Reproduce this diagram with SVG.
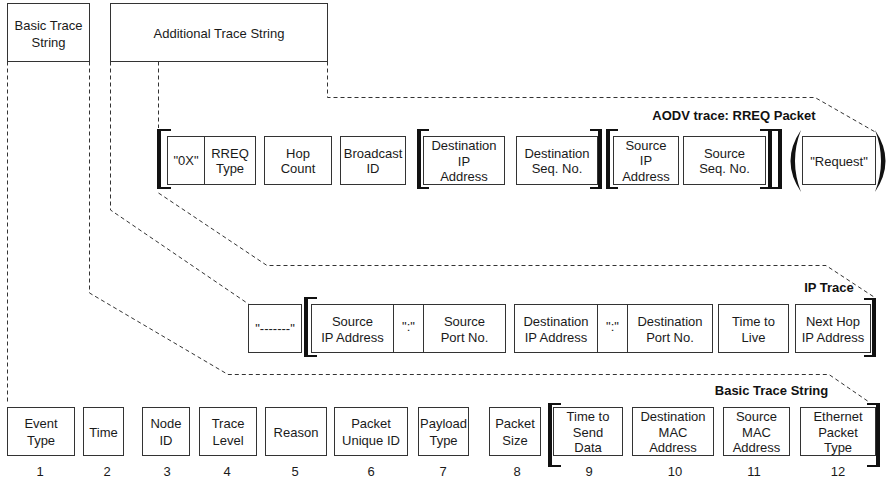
<svg xmlns="http://www.w3.org/2000/svg" width="888" height="480" viewBox="0 0 888 480">
<style>
  .box { fill: #fff; stroke: #333; stroke-width: 1; }
  .div { stroke: #333; stroke-width: 1; }
  .t { font-family: "Liberation Sans", Arial, Helvetica, sans-serif; font-size: 13px; fill: #1a1a1a; text-anchor: middle; }
  .h { font-family: "Liberation Sans", Arial, Helvetica, sans-serif; font-size: 13px; font-weight: bold; fill: #111; text-anchor: middle; }
  .dash { fill: none; stroke: #333; stroke-width: 1; stroke-dasharray: 4 3; }
  .brk { fill: #111; }
</style>
<rect width="888" height="480" fill="#fff"/>

<!-- dashed leader lines -->
<g id="connectors">
  <path class="dash" d="M7.5 61.5 V403"/>
  <path class="dash" d="M89.5 61.5 V293 L228 374.5 H829 L869 402"/>
  <path class="dash" d="M110.5 61.5 V210 L248.5 304"/>
  <path class="dash" d="M158.5 61.5 V128"/>
  <path class="dash" d="M158.5 193 L267 265.5 H826 L874 297"/>
  <path class="dash" d="M327.5 61.5 V97.5 H815 L877 133"/>
</g>

<!-- top level -->
<g id="basic-trace-string">
  <rect class="box" x="7.5" y="3.5" width="82" height="58"/>
  <text class="t" x="48.5" y="29.5">Basic Trace</text>
  <text class="t" x="48.5" y="46.5">String</text>
</g>
<g id="additional-trace-string">
  <rect class="box" x="110.5" y="3.5" width="217" height="58"/>
  <text class="t" x="219" y="37.5">Additional Trace String</text>
</g>

<!-- AODV RREQ packet row -->
<g id="aodv-title"><text class="h" x="734" y="120">AODV trace: RREQ Packet</text></g>
<g id="aodv-brackets">
  <path class="brk" d="M157 129 H171 V131 H161 V187 H171 V189 H157 Z"/>
  <path class="brk" d="M417 129 H429 V131 H421 V187 H429 V189 H417 Z"/>
  <path class="brk" d="M602 129 H590 V131 H598 V187 H590 V189 H602 Z"/>
  <path class="brk" d="M606 129 H618 V131 H610 V187 H618 V189 H606 Z"/>
  <path class="brk" d="M772 129 H760 V131 H768 V187 H760 V189 H772 Z"/>
  <path class="brk" d="M782 129 H770 V131 H778 V187 H770 V189 H782 Z"/>
  <path class="brk" d="M801 130 Q780 161 801 192 Q789 161 801 130 Z"/>
  <path class="brk" d="M875 130 Q896 161 875 192 Q887 161 875 130 Z"/>
</g>
<g id="aodv-0x-type">
  <rect class="box" x="167.5" y="136.5" width="88" height="48"/>
  <line class="div" x1="204.5" y1="136.5" x2="204.5" y2="184.5"/>
  <text class="t" x="186" y="165">"0X"</text>
  <text class="t" x="230" y="157.5">RREQ</text>
  <text class="t" x="230" y="173">Type</text>
</g>
<g id="aodv-hop-count">
  <rect class="box" x="264.5" y="136.5" width="67" height="48"/>
  <text class="t" x="298" y="157.5">Hop</text>
  <text class="t" x="298" y="173">Count</text>
</g>
<g id="aodv-broadcast-id">
  <rect class="box" x="340.5" y="136.5" width="65" height="48"/>
  <text class="t" x="373" y="157.5">Broadcast</text>
  <text class="t" x="373" y="173">ID</text>
</g>
<g id="aodv-dest-ip">
  <rect class="box" x="423.5" y="136.5" width="81" height="48"/>
  <text class="t" x="464" y="149.5">Destination</text>
  <text class="t" x="464" y="165.5">IP</text>
  <text class="t" x="464" y="181">Address</text>
</g>
<g id="aodv-dest-seq">
  <rect class="box" x="516.5" y="136.5" width="81" height="48"/>
  <text class="t" x="557" y="157.5">Destination</text>
  <text class="t" x="557" y="173">Seq. No.</text>
</g>
<g id="aodv-src-ip">
  <rect class="box" x="613.5" y="136.5" width="65" height="48"/>
  <text class="t" x="646" y="149.5">Source</text>
  <text class="t" x="646" y="165">IP</text>
  <text class="t" x="646" y="181">Address</text>
</g>
<g id="aodv-src-seq">
  <rect class="box" x="683.5" y="136.5" width="82" height="48"/>
  <text class="t" x="724.5" y="157.5">Source</text>
  <text class="t" x="724.5" y="173">Seq. No.</text>
</g>
<g id="aodv-request">
  <rect class="box" x="802.5" y="136.5" width="73" height="48"/>
  <text class="t" x="839" y="166">"Request"</text>
</g>

<!-- IP trace row -->
<g id="ip-title"><text class="h" x="829" y="292">IP Trace</text></g>
<g id="ip-brackets">
  <path class="brk" d="M304 297 H317 V299 H308 V355 H317 V357 H304 Z"/>
  <path class="brk" d="M876 298 H864 V300 H872 V355 H864 V357 H876 Z"/>
</g>
<g id="ip-separator">
  <rect class="box" x="248.5" y="304.5" width="53" height="48"/>
  <text class="t" x="275" y="333">"-------"</text>
</g>
<g id="ip-source">
  <rect class="box" x="311.5" y="304.5" width="194" height="48"/>
  <line class="div" x1="393.5" y1="304.5" x2="393.5" y2="352.5"/>
  <line class="div" x1="423.5" y1="304.5" x2="423.5" y2="352.5"/>
  <text class="t" x="352.5" y="325.5">Source</text>
  <text class="t" x="352.5" y="341.5">IP Address</text>
  <text class="t" x="408.5" y="331">":"</text>
  <text class="t" x="464.5" y="325.5">Source</text>
  <text class="t" x="464.5" y="341.5">Port No.</text>
</g>
<g id="ip-destination">
  <rect class="box" x="514.5" y="304.5" width="198" height="48"/>
  <line class="div" x1="597.5" y1="304.5" x2="597.5" y2="352.5"/>
  <line class="div" x1="627.5" y1="304.5" x2="627.5" y2="352.5"/>
  <text class="t" x="556" y="325.5">Destination</text>
  <text class="t" x="556" y="341.5">IP Address</text>
  <text class="t" x="612.5" y="331">":"</text>
  <text class="t" x="670" y="325.5">Destination</text>
  <text class="t" x="670" y="341.5">Port No.</text>
</g>
<g id="ip-ttl">
  <rect class="box" x="718.5" y="304.5" width="70" height="48"/>
  <text class="t" x="753.5" y="325.5">Time to</text>
  <text class="t" x="753.5" y="341.5">Live</text>
</g>
<g id="ip-next-hop">
  <rect class="box" x="795.5" y="304.5" width="75" height="48"/>
  <text class="t" x="833" y="325.5">Next Hop</text>
  <text class="t" x="833" y="341.5">IP Address</text>
</g>

<!-- basic trace string fields -->
<g id="basic-title"><text class="h" x="771.5" y="395">Basic Trace String</text></g>
<g id="basic-brackets">
  <path class="brk" d="M548 403 H561 V405 H552 V465 H561 V467 H548 Z"/>
  <path class="brk" d="M880 403 H867 V405 H876 V465 H867 V467 H880 Z"/>
</g>
<g id="f1-event-type">
  <rect class="box" x="7.5" y="407.5" width="67" height="48"/>
  <text class="t" x="41" y="428">Event</text>
  <text class="t" x="41" y="444.5">Type</text>
  <text class="t" x="40" y="476">1</text>
</g>
<g id="f2-time">
  <rect class="box" x="83.5" y="407.5" width="40" height="48"/>
  <text class="t" x="103.5" y="436.5">Time</text>
  <text class="t" x="107" y="476">2</text>
</g>
<g id="f3-node-id">
  <rect class="box" x="142.5" y="407.5" width="47" height="48"/>
  <text class="t" x="166" y="428">Node</text>
  <text class="t" x="166" y="444.5">ID</text>
  <text class="t" x="167" y="476">3</text>
</g>
<g id="f4-trace-level">
  <rect class="box" x="199.5" y="407.5" width="57" height="48"/>
  <text class="t" x="228" y="428">Trace</text>
  <text class="t" x="228" y="444.5">Level</text>
  <text class="t" x="227" y="476">4</text>
</g>
<g id="f5-reason">
  <rect class="box" x="265.5" y="407.5" width="61" height="48"/>
  <text class="t" x="296" y="436.5">Reason</text>
  <text class="t" x="295" y="476">5</text>
</g>
<g id="f6-packet-uid">
  <rect class="box" x="334.5" y="407.5" width="73" height="48"/>
  <text class="t" x="371" y="428">Packet</text>
  <text class="t" x="371" y="444.5">Unique ID</text>
  <text class="t" x="371" y="476">6</text>
</g>
<g id="f7-payload-type">
  <rect class="box" x="418.5" y="407.5" width="50" height="48"/>
  <text class="t" x="443.5" y="428">Payload</text>
  <text class="t" x="443.5" y="444.5">Type</text>
  <text class="t" x="443" y="476">7</text>
</g>
<g id="f8-packet-size">
  <rect class="box" x="489.5" y="407.5" width="51" height="48"/>
  <text class="t" x="515" y="428">Packet</text>
  <text class="t" x="515" y="444.5">Size</text>
  <text class="t" x="517" y="476">8</text>
</g>
<g id="f9-time-to-send">
  <rect class="box" x="553.5" y="407.5" width="69" height="48"/>
  <text class="t" x="588" y="420.5">Time to</text>
  <text class="t" x="588" y="436.5">Send</text>
  <text class="t" x="588" y="452">Data</text>
  <text class="t" x="589" y="476">9</text>
</g>
<g id="f10-dest-mac">
  <rect class="box" x="632.5" y="407.5" width="81" height="48"/>
  <text class="t" x="673" y="420.5">Destination</text>
  <text class="t" x="673" y="436.5">MAC</text>
  <text class="t" x="673" y="452">Address</text>
  <text class="t" x="675" y="476">10</text>
</g>
<g id="f11-src-mac">
  <rect class="box" x="723.5" y="407.5" width="66" height="48"/>
  <text class="t" x="756.5" y="420.5">Source</text>
  <text class="t" x="756.5" y="436.5">MAC</text>
  <text class="t" x="756.5" y="452">Address</text>
  <text class="t" x="754" y="476">11</text>
</g>
<g id="f12-ether-type">
  <rect class="box" x="800.5" y="407.5" width="75" height="48"/>
  <text class="t" x="838" y="420.5">Ethernet</text>
  <text class="t" x="838" y="436.5">Packet</text>
  <text class="t" x="838" y="452">Type</text>
  <text class="t" x="838" y="476">12</text>
</g>
</svg>
